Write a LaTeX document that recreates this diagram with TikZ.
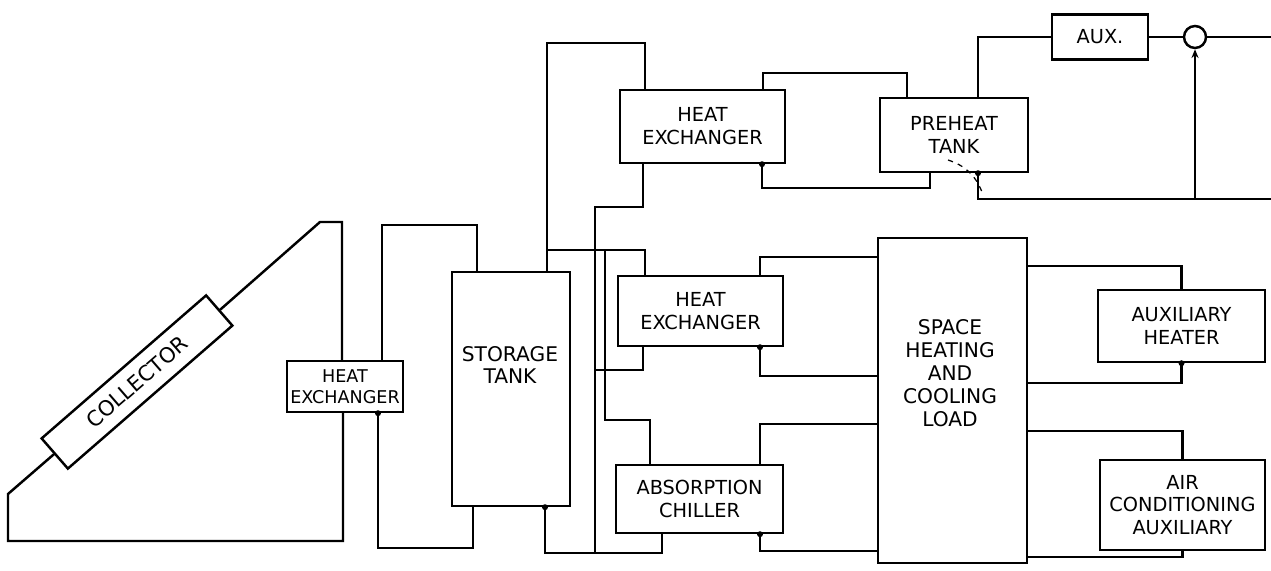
\documentclass[tikz,border=0pt]{standalone}
\usepackage{fontspec}
\usetikzlibrary{arrows.meta, positioning, calc}
\newfontfamily\lettering{DejaVu Sans}

\begin{document}
\begin{tikzpicture}[
  x=0.02cm, y=-0.02cm,
  unit/.style={rectangle, draw, line width=1.4pt, align=center,
    inner sep=1pt, font=\lettering\fontsize{11}{13}\selectfont},
  tag/.style={align=center, inner sep=1pt,
    font=\lettering\fontsize{11.5}{13}\selectfont},
  pipe/.style={line width=1.4pt}
]
\useasboundingbox (0,0) rectangle (1271,571);

% Solar side: collector, first exchanger, storage
\node[unit, rotate=41, minimum width=4.36cm, minimum height=0.8cm,
      font=\lettering\fontsize{12}{13}\selectfont] (col) at (137,382) {COLLECTOR};
\node[unit, minimum width=2.32cm, minimum height=1.02cm,
      font=\lettering\fontsize{10}{12}\selectfont] (hxA) at (345,386.5) {HEAT\\EXCHANGER};
\node[unit, minimum width=2.36cm, minimum height=4.68cm] (tank) at (511,389) {};
\node[tag] (tanktxt) at (510,365) {STORAGE\\TANK};

% Middle column
\node[unit, minimum width=3.3cm, minimum height=1.46cm] (hxB) at (702.5,126.5) {HEAT\\EXCHANGER};
\node[unit, minimum width=3.3cm, minimum height=1.4cm] (hxC) at (700.5,311) {HEAT\\EXCHANGER};
\node[unit, minimum width=3.34cm, minimum height=1.36cm] (chiller) at (699.5,499) {ABSORPTION\\CHILLER};

% Load and hot water side
\node[unit, minimum width=2.98cm, minimum height=6.5cm] (load) at (952.5,400.5) {};
\node[tag] (loadtxt) at (950,373) {SPACE\\HEATING\\AND\\COOLING\\LOAD};
\node[unit, minimum width=2.96cm, minimum height=1.48cm] (preheat) at (954,135) {PREHEAT\\TANK};
\node[unit, minimum width=1.92cm, minimum height=0.9cm] (aux) at (1100,37) {AUX.};
\node[draw, circle, line width=1.4pt, minimum size=0.44cm, inner sep=0pt] (valve) at (1195,37) {};
\node[unit, minimum width=3.34cm, minimum height=1.44cm] (auxheat) at (1181.5,326) {AUXILIARY\\HEATER};
\node[unit, minimum width=3.3cm, minimum height=1.8cm] (acaux) at (1182.5,505) {AIR\\CONDITIONING\\AUXILIARY};

% Collector loop
\draw[pipe] (col.east) -- (320,222) -| (hxA.north -| 342,0);
\draw[pipe] (col.west) -- (8,494) -- (8,541) -| (hxA.south -| 343,0);

% Exchanger to storage
\draw[pipe] (hxA.north -| 382,0) -- (382,225) -| (tank.north -| 477,0);
\draw[pipe] (hxA.south -| 378,0) -- (378,548) -| (tank.south -| 473,0);

% Supply from top of storage
\coordinate (jA) at (547,250);
\coordinate (jB) at (605,250);
\draw[pipe] (tank.north -| 547,0) -- (547,43) -| (hxB.north -| 645,0);
\draw[pipe] (jA) -| (hxC.north -| 645,0);
\draw[pipe] (jB) -- (605,420) -| (chiller.north -| 650,0);

% Return to bottom of storage
\coordinate (jC) at (595,370);
\coordinate (jD) at (595,553);
\draw[pipe] (hxB.south -| 643,0) -- (643,207) -| (jD);
\draw[pipe] (hxC.south -| 643,0) |- (jC);
\draw[pipe] (tank.south -| 545,0) -- (545,553) -| (chiller.south -| 662,0);

% To the load
\draw[pipe] (hxC.north -| 760,0) |- (load.west |- 0,257);
\draw[pipe] (hxC.south -| 760,0) |- (load.west |- 0,376);
\draw[pipe] (chiller.north -| 760,0) |- (load.west |- 0,424);
\draw[pipe] (chiller.south -| 760,0) |- (load.west |- 0,551);

% Auxiliaries on the load
\draw[pipe] (load.east |- 0,266) -| (auxheat.north);
\draw[pipe] (load.east |- 0,383) -| (auxheat.south);
\draw[pipe] (load.east |- 0,431) -| (acaux.north);
\draw[pipe] (load.east |- 0,557) -| (acaux.south);

% Hot water preheat
\coordinate (hotout) at (1271,37);
\coordinate (coldin) at (1271,199);
\coordinate (jV) at (1195,199);
\draw[pipe] (hxB.north -| 763,0) -- (763,73) -| (preheat.north -| 907,0);
\draw[pipe] (hxB.south -| 762,0) -- (762,188) -| (preheat.south -| 930,0);
\draw[pipe] (preheat.north -| 978,0) |- (aux.west);
\draw[pipe] (aux.east) -- (valve.west);
\draw[pipe] (valve.east) -- (hotout);
\draw[pipe] (preheat.south -| 978,0) |- (coldin);
\draw[pipe, -{Stealth[length=5pt, width=4pt]}] (jV) -- (valve.south);
\draw[dashed, line width=0.7pt] (948,160) to[bend left=25] (982,192);

% Outlet marks
\foreach \n/\px in {hxA/378, tank/545, hxB/762, hxC/760, chiller/760,
                    preheat/978, auxheat/1181.5}
  \fill (\n.south -| \px,0) circle[radius=1.7pt];
\end{tikzpicture}
\end{document}
